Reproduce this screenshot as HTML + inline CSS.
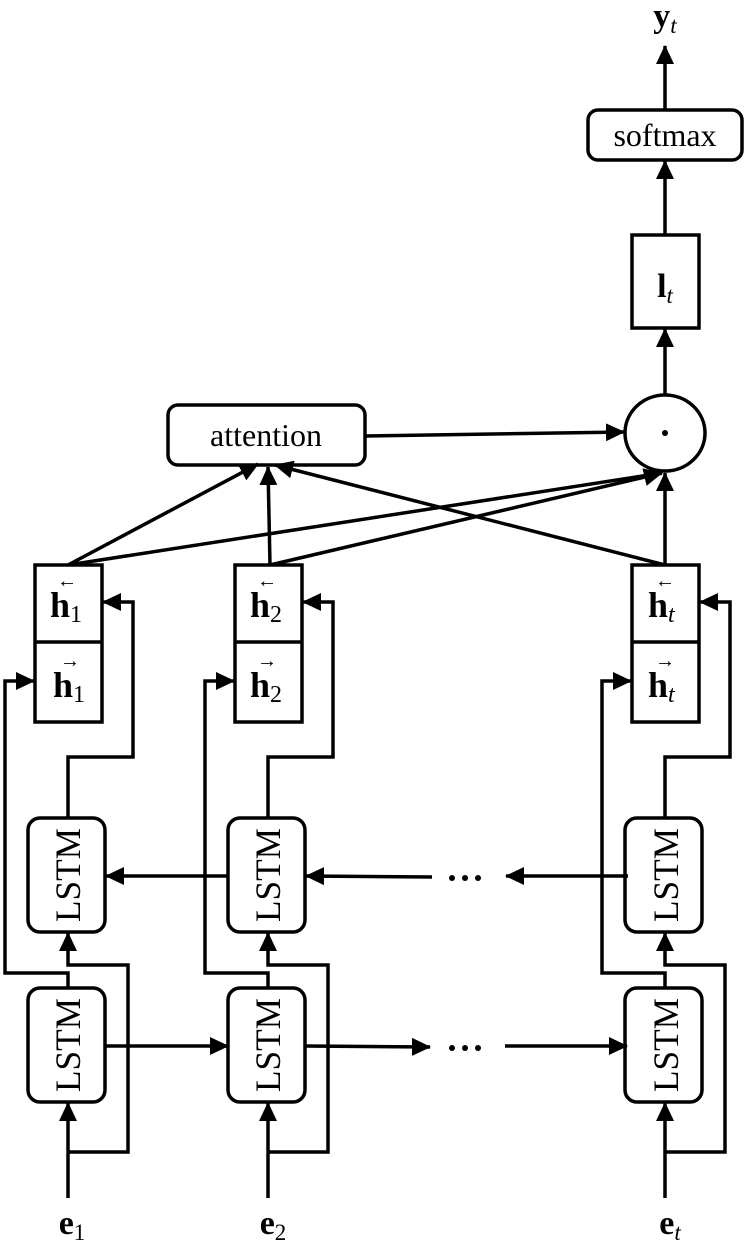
<!DOCTYPE html>
<html><head><meta charset="utf-8"><style>
html,body{margin:0;padding:0;background:#fff;}
svg{display:block;}
text{font-family:"Liberation Serif","DejaVu Serif",serif;fill:#000;}
</style></head><body>
<svg width="747" height="1244" viewBox="0 0 747 1244" xmlns="http://www.w3.org/2000/svg">
<defs>
<marker id="a" markerUnits="userSpaceOnUse" markerWidth="20" markerHeight="20" refX="18" refY="9" orient="auto">
<path d="M0,0 L19,9 L0,18 Z" fill="#000"/>
</marker>
</defs>
<g fill="none" stroke="#000" stroke-width="3.5">
<rect x="588" y="110" width="154" height="50" rx="10" fill="#fff"/>
<rect x="632" y="235" width="67" height="93" fill="#fff"/>
<ellipse cx="665" cy="433" rx="40" ry="38" fill="#fff"/>
<rect x="168" y="405" width="197" height="60" rx="10" fill="#fff"/>
<line x1="665" y1="110" x2="665" y2="46" marker-end="url(#a)"/>
<line x1="665" y1="235" x2="665" y2="161" marker-end="url(#a)"/>
<line x1="665" y1="395" x2="665" y2="329" marker-end="url(#a)"/>
<line x1="365" y1="436" x2="624" y2="432" marker-end="url(#a)"/>
<line x1="68" y1="565" x2="258" y2="464" marker-end="url(#a)"/>
<line x1="270" y1="565" x2="268" y2="467" marker-end="url(#a)"/>
<line x1="665" y1="565" x2="275" y2="465" marker-end="url(#a)"/>
<line x1="68" y1="565" x2="662" y2="473"/>
<line x1="270" y1="565" x2="662" y2="473" marker-end="url(#a)"/>
<line x1="665" y1="565" x2="665" y2="473" marker-end="url(#a)"/>

<g id="c1">
<rect x="35" y="565" width="67" height="157" fill="#fff"/>
<line x1="35" y1="642" x2="102" y2="642"/>
<rect x="28" y="818" width="77" height="114" rx="12" fill="#fff"/>
<rect x="28" y="988" width="77" height="114" rx="12" fill="#fff"/>
<polyline points="68,818 68,757 133,757 133,602 103,602" marker-end="url(#a)"/>
<polyline points="68,988 68,973 5,973 5,681 34,681" marker-end="url(#a)"/>
<polyline points="68,1152 128,1152 128,965 68,965 68,933" marker-end="url(#a)"/>
<line x1="68" y1="1198" x2="68" y2="1103" marker-end="url(#a)"/>
</g>
<use href="#c1" x="200"/>
<use href="#c1" x="597"/>
<line x1="228" y1="876" x2="106" y2="876" marker-end="url(#a)"/>
<line x1="432" y1="877" x2="306" y2="876" marker-end="url(#a)"/>
<line x1="628" y1="876" x2="506" y2="876" marker-end="url(#a)"/>
<line x1="105" y1="1046" x2="228" y2="1046" marker-end="url(#a)"/>
<line x1="305" y1="1046" x2="430" y2="1047" marker-end="url(#a)"/>
<line x1="505" y1="1046" x2="627" y2="1046" marker-end="url(#a)"/>
</g>
<g fill="#000">
<circle cx="452" cy="878" r="3"/><circle cx="465" cy="878" r="3"/><circle cx="478" cy="878" r="3"/>
<circle cx="452" cy="1048" r="3"/><circle cx="465" cy="1048" r="3"/><circle cx="478" cy="1048" r="3"/>
<circle cx="665" cy="433" r="3"/>
</g>
<text x="665" y="27" font-size="34" font-weight="bold" text-anchor="middle">y<tspan font-size="23" font-style="italic" font-weight="normal" dy="6">t</tspan></text>
<text x="665" y="146" font-size="32" text-anchor="middle">softmax</text>
<text x="665" y="297" font-size="34" font-weight="bold" text-anchor="middle">l<tspan font-size="23" font-style="italic" font-weight="normal" dy="6">t</tspan></text>
<text x="266" y="446" font-size="32" text-anchor="middle">attention</text>

<g font-size="36">
<text transform="translate(80,875) rotate(-90)" text-anchor="middle" textLength="94" lengthAdjust="spacingAndGlyphs">LSTM</text>
<text transform="translate(80,1045) rotate(-90)" text-anchor="middle" textLength="94" lengthAdjust="spacingAndGlyphs">LSTM</text>
<text transform="translate(280,875) rotate(-90)" text-anchor="middle" textLength="94" lengthAdjust="spacingAndGlyphs">LSTM</text>
<text transform="translate(280,1045) rotate(-90)" text-anchor="middle" textLength="94" lengthAdjust="spacingAndGlyphs">LSTM</text>
<text transform="translate(678,875) rotate(-90)" text-anchor="middle" textLength="94" lengthAdjust="spacingAndGlyphs">LSTM</text>
<text transform="translate(678,1045) rotate(-90)" text-anchor="middle" textLength="94" lengthAdjust="spacingAndGlyphs">LSTM</text>
</g>

<g font-size="36" font-weight="bold">
<text x="50" y="617">h<tspan font-size="24" font-weight="normal" dy="5">1</tspan></text>
<text x="53" y="697">h<tspan font-size="24" font-weight="normal" dy="5">1</tspan></text>
<text x="250" y="617">h<tspan font-size="24" font-weight="normal" dy="5">2</tspan></text>
<text x="250" y="697">h<tspan font-size="24" font-weight="normal" dy="5">2</tspan></text>
<text x="648" y="617">h<tspan font-size="24" font-weight="normal" font-style="italic" dy="5">t</tspan></text>
<text x="648" y="697">h<tspan font-size="24" font-weight="normal" font-style="italic" dy="5">t</tspan></text>
</g>
<g font-size="20">
<text x="57" y="587">←</text><text x="60" y="667">→</text>
<text x="257" y="587">←</text><text x="257" y="667">→</text>
<text x="655" y="587">←</text><text x="655" y="667">→</text>
</g>
<g font-size="34" font-weight="bold" text-anchor="middle">
<text x="72" y="1234">e<tspan font-size="23" font-weight="normal" dy="6">1</tspan></text>
<text x="273" y="1234">e<tspan font-size="23" font-weight="normal" dy="6">2</tspan></text>
<text x="670" y="1234">e<tspan font-size="23" font-weight="normal" font-style="italic" dy="6">t</tspan></text>
</g>
</svg>
</body></html>
